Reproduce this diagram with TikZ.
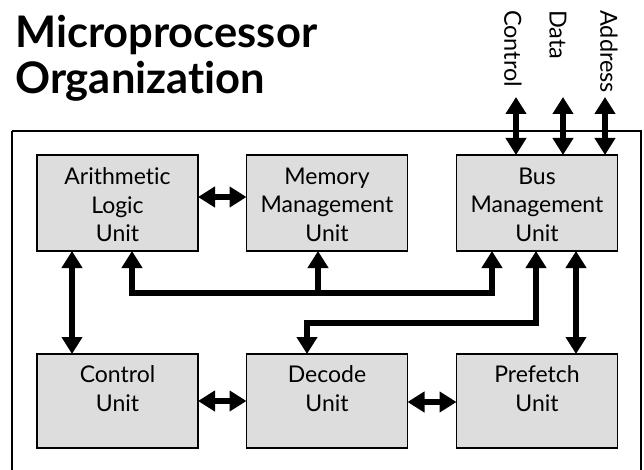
\documentclass[tikz,border=0pt]{standalone}
\usepackage{fontspec}
\setmainfont{Lato}[Ligatures=NoCommon]
\usetikzlibrary{arrows.meta}
\definecolor{unitfill}{HTML}{DDDDDD}
\begin{document}
\begin{tikzpicture}[x=1pt,y=-1pt,
  unit/.style={draw=black, line width=1.6pt, fill=unitfill,
    minimum width=161pt, inner sep=0pt, outer sep=0pt},
  toprow/.style={unit, minimum height=96pt},
  botrow/.style={unit, minimum height=94pt},
  unitlabel/.style={align=center, inner sep=0pt, anchor=north,
    font=\fontsize{23}{28.5}\selectfont},
  buslabel/.style={rotate=-90, anchor=west, inner sep=0pt,
    font=\fontsize{23.5}{28}\selectfont},
  heading/.style={anchor=base west, inner sep=0pt,
    font=\fontsize{43.5}{50}\selectfont\bfseries},
  link/.style={line width=6pt, >={Triangle[length=17pt,width=20pt]}},
  frame/.style={draw=black, line width=1.8pt}
]
\useasboundingbox (0,0) rectangle (644,470);

% heading
\node[heading] (t1) at (15,48) {Microprocessor};
\node[heading] (t2) at (15,94) {Organization};

% chip outline
\draw[frame] (12,131) -- (641,131) -- (641,480) (12,131) -- (12,480);

% functional units
\node[toprow] (alu) at (117.5,203) {};
\node[toprow] (mem) at (327,203) {};
\node[toprow] (bus) at (537,203) {};
\node[botrow] (ctl) at (117.5,401) {};
\node[botrow] (dec) at (327,401) {};
\node[botrow] (pre) at (537,401) {};

\node[unitlabel] (alu-t) at ([yshift=-12.5pt]alu.north) {Arithmetic\\Logic\\Unit};
\node[unitlabel] (mem-t) at ([yshift=-12.5pt]mem.north) {Memory\\Management\\Unit};
\node[unitlabel] (bus-t) at ([yshift=-12.5pt]bus.north) {Bus\\Management\\Unit};
\node[unitlabel] (ctl-t) at ([yshift=-11.5pt]ctl.north) {Control\\Unit};
\node[unitlabel] (dec-t) at ([yshift=-11.5pt]dec.north) {Decode\\Unit};
\node[unitlabel] (pre-t) at ([yshift=-11.5pt]pre.north) {Prefetch\\Unit};

% external bus lines
\node[buslabel] (lc) at (513,10) {Control};
\node[buslabel] (ld) at (558,10) {Data};
\node[buslabel] (la) at (609,10) {Address};
\coordinate (tc) at (516,97);
\coordinate (td) at (563,97);
\coordinate (ta) at (605,97);
\draw[link,<->] (tc) -- (tc |- bus.north);
\draw[link,<->] (td) -- (td |- bus.north);
\draw[link,<->] (ta) -- (ta |- bus.north);

% internal connections
\coordinate (h1) at (0,197);
\coordinate (h2) at (0,401);
\coordinate (h3) at (0,402);
\draw[link,<->] (alu.east |- h1) -- (mem.west |- h1);
\draw[link,<->] (ctl.east |- h2) -- (dec.west |- h2);
\draw[link,<->] (dec.east |- h3) -- (pre.west |- h3);

\coordinate (a1) at (72,300);
\draw[link,<->] (alu.south -| a1) -- (ctl.north -| a1);
\coordinate (p1) at (576,300);
\draw[link,<->] (bus.south -| p1) -- (pre.north -| p1);

\coordinate (e1) at (492,293);
\coordinate (e2) at (132,293);
\coordinate (j1) at (318,293);
\draw[link,<->] (bus.south -| e1) -- (e1) -- (e2) -- (alu.south -| e2);
\draw[link,->] (j1) -- (mem.south -| j1);

\coordinate (f1) at (536,323);
\coordinate (f2) at (307,323);
\draw[link,<->] (bus.south -| f1) -- (f1) -- (f2) -- (dec.north -| f2);
\end{tikzpicture}
\end{document}
